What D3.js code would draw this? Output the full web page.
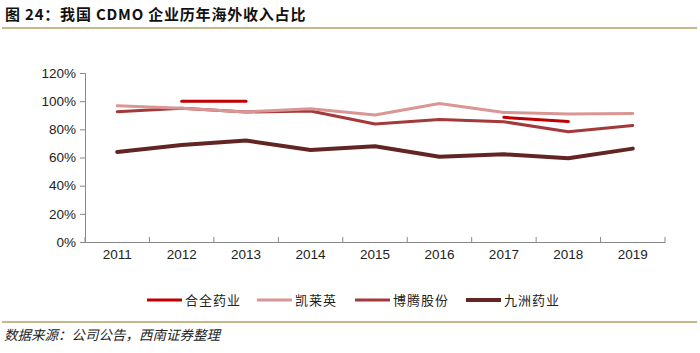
<!DOCTYPE html>
<html><head><meta charset="utf-8">
<script src="https://cdn.jsdelivr.net/npm/d3@7"></script>
<style>
body{margin:0;background:#fff;}
svg{display:block;}
</style></head>
<body>
<svg id="chart" width="700" height="353"></svg>
<script>
const years = ["2011","2012","2013","2014","2015","2016","2017","2018","2019"];
const seriesNames = ["合全药业","凯莱英","博腾股份","九洲药业"];
const hequan  = [null, 100, 100, null, null, null, 88.5, 85.5, null];
const kaiLaiYing = [96.8, 95.0, 92.3, 94.6, 90.2, 98.3, 92.0, 90.9, 91.2];
const boTeng  = [92.5, 95.0, 92.3, 93.0, 83.8, 87.0, 85.4, 78.3, 82.8];
const jiuZhou = [63.9, 68.9, 72.0, 65.3, 68.0, 60.6, 62.3, 59.4, 66.3];
const yTicks = [0,20,40,60,80,100,120];
const colors = ["#C00000","#D99694","#A4393B","#632523"];
const widths = [3,3,3,4];

const svg = d3.select("#chart");
const F = "'Liberation Sans', Arial, sans-serif";
const CJK = "'Noto Sans CJK SC', sans-serif";

// title
svg.append("text").attr("x",5).attr("y",20)
  .attr("font-family",CJK).attr("font-size",15).attr("letter-spacing",0.8).attr("font-weight","bold").attr("fill","#111")
  .text("图 24：我国 CDMO 企业历年海外收入占比");
svg.append("line").attr("x1",2).attr("x2",697).attr("y1",28).attr("y2",28)
  .attr("stroke","#B3A064").attr("stroke-width",1.5);
svg.append("line").attr("x1",2).attr("x2",697).attr("y1",322).attr("y2",322)
  .attr("stroke","#B3A064").attr("stroke-width",1.5);
svg.append("text").attr("x",4).attr("y",340)
  .attr("font-family",CJK).attr("font-size",13.5).attr("font-style","italic").attr("fill","#222")
  .text("数据来源：公司公告，西南证券整理");

const x = d3.scaleBand().domain(years).range([85,665]);
const y = d3.scaleLinear().domain([0,120]).range([242,73]);

// y axis
const ya = svg.append("g").attr("transform","translate(85,0)")
  .call(d3.axisLeft(y).tickValues(yTicks).tickSize(5).tickFormat(d=>d+"%"));
ya.selectAll("path,line").attr("stroke","#888");
ya.selectAll("text").attr("font-family",F).attr("font-size",13.5).attr("fill","#222").attr("dx",-1);

// x axis
const xa = svg.append("g").attr("transform","translate(0,242)")
  .call(d3.axisBottom(x).tickSize(0).tickSizeOuter(0));
xa.selectAll("path").attr("stroke","#888");
xa.selectAll("text").attr("font-family",F).attr("font-size",13.5).attr("fill","#222").attr("dy","1.05em");
const bounds = years.map(d=>x(d)).concat([x(years[years.length-1])+x.bandwidth()]);
xa.selectAll("line.bt").data(bounds).enter().append("line").attr("class","bt")
  .attr("x1",d=>d).attr("x2",d=>d).attr("y1",0).attr("y2",-5).attr("stroke","#888");

const data = [hequan,kaiLaiYing,boTeng,jiuZhou];
const line = d3.line()
  .defined(d=>d!=null)
  .x((d,i)=>x(years[i])+x.bandwidth()/2)
  .y(d=>y(d));
const order = [3,2,1,0];
order.forEach(k=>{
  svg.append("path").datum(data[k]).attr("d",line)
    .attr("fill","none").attr("stroke",colors[k]).attr("stroke-width",widths[k])
    .attr("stroke-linejoin","round").attr("stroke-linecap","round");
});

// legend
const legX = [147,257,355,466];
seriesNames.forEach((n,i)=>{
  svg.append("line").attr("x1",legX[i]).attr("x2",legX[i]+35).attr("y1",300).attr("y2",300)
    .attr("stroke",colors[i]).attr("stroke-width",widths[i]);
  svg.append("text").attr("x",legX[i]+38).attr("y",305)
    .attr("font-family",CJK).attr("font-size",13).attr("letter-spacing",1).attr("fill","#222").text(n);
});
</script>
</body></html>
